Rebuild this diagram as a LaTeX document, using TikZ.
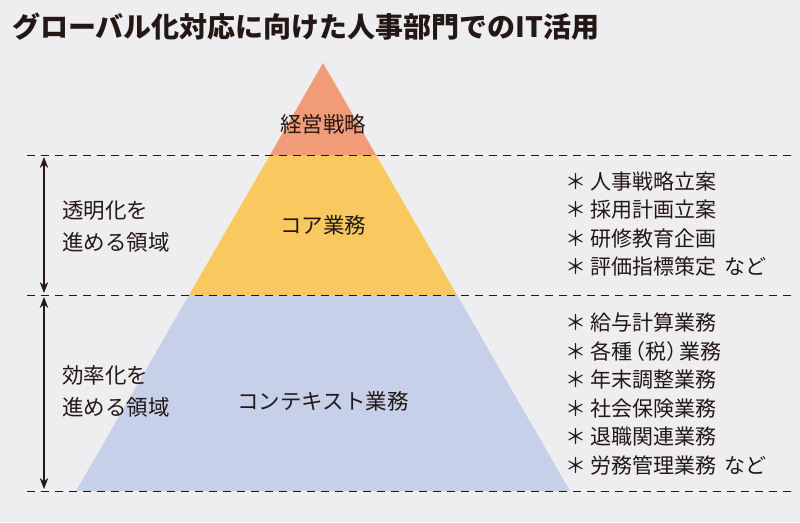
\documentclass[tikz,border=0pt]{standalone}
\usepackage{fontspec}
\setmainfont{Noto Sans CJK JP}
\usepackage{xcolor}
\usetikzlibrary{arrows.meta}
\definecolor{bgcol}{HTML}{EEEEF0}
\definecolor{ink}{HTML}{231815}
\definecolor{topcol}{HTML}{F19B79}
\definecolor{corecol}{HTML}{F9C95F}
\definecolor{ctxcol}{HTML}{C6D1E9}
\newcommand{\etc}{\hspace{0.35em}など}

\begin{document}
\begin{tikzpicture}[x=1pt, y=-1pt,
  lbl/.style={inner sep=0pt, text=ink, font=\fontsize{21.5}{32}\selectfont, align=left},
  lst/.style={inner sep=0pt, text=ink, font=\fontsize{21}{28.6}\selectfont, align=left, anchor=west},
  sep/.style={dashed, dash pattern=on 8pt off 6pt, ink, line width=0.9pt},
  span/.style={{Stealth[length=11pt,width=8.5pt]}-{Stealth[length=11pt,width=8.5pt]}, ink, line width=1.1pt},
  >=Stealth]
\fill[bgcol] (0,0) rectangle (800,522);
% pyramid
\fill[ctxcol] (76,491) -- (570,491) -- (457,295) -- (189,295) -- cycle;
\fill[corecol] (189,295) -- (457,295) -- (376,155) -- (270,155) -- cycle;
\fill[topcol] (270,155) -- (376,155) -- (323,63) -- cycle;
% dashed borders
\coordinate (a1) at (27,155); \coordinate (a2) at (796,155);
\coordinate (b1) at (27,295); \coordinate (b2) at (796,295);
\coordinate (c1) at (27,491); \coordinate (c2) at (796,491);
\draw[sep] (a1) -- (a2);
\draw[sep] (b1) -- (b2);
\draw[sep] (c1) -- (c2);
% spans
\coordinate (s1) at (44,157); \coordinate (s2) at (44,293);
\coordinate (s3) at (44,297); \coordinate (s4) at (44,489);
\draw[span] (s1) -- (s2);
\draw[span] (s3) -- (s4);
\node[anchor=west, inner sep=0pt, text=ink, font=\fontsize{28}{32}\selectfont\bfseries] (title) at (12,27) {グローバル化対応に向けた人事部門でのIT活用};
\node[lbl] (strat) at (323,124) {経営戦略};
\node[lbl] (core) at (323,225) {コア業務};
\node[lbl] (ctx) at (323,401) {コンテキスト業務};
\node[lbl, anchor=west] (trans) at (62,227) {透明化を\\進める領域};
\node[lbl, anchor=west] (effic) at (62,391) {効率化を\\進める領域};
\node[lst] (corelist) at (565,224) {＊ 人事戦略立案\\＊ 採用計画立案\\＊ 研修教育企画\\＊ 評価指標策定\etc};
\node[lst] (ctxlist) at (565,394) {＊ 給与計算業務\\＊ 各種\kern-.4em（税）\kern-.4em業務\\＊ 年末調整業務\\＊ 社会保険業務\\＊ 退職関連業務\\＊ 労務管理業務\etc};
\end{tikzpicture}
\end{document}
